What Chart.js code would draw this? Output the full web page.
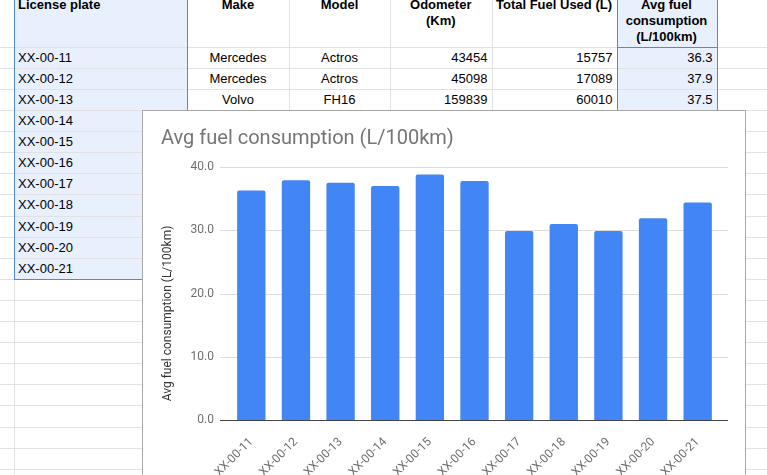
<!DOCTYPE html>
<html>
<head>
<meta charset="utf-8">
<script src="https://cdn.jsdelivr.net/npm/chart.js@4"></script>
<style>
  html, body { margin: 0; padding: 0; width: 767px; height: 475px; overflow: hidden; background: #fff; font-family: Arial, "Liberation Sans", sans-serif; }
  #sheet { position: absolute; left: 0; top: 0; width: 767px; height: 475px; }
  .ln { position: absolute; background: #e2e2e2; }
  .cell { position: absolute; font-size: 13px; color: #000; white-space: nowrap; box-sizing: border-box; padding: 0 4px; line-height: 21px; }
  .hd { font-weight: bold; line-height: 16px; text-align: center; }
  .sel { position: absolute; background: #e8f0fe; }
  .selb { position: absolute; border: 1px solid #4e88e8; box-sizing: border-box; }
  #card { position: absolute; left: 142px; top: 110px; width: 604px; height: 420px; background: #fff; border: 1px solid #a8a8a8; box-sizing: border-box; }
  #wrap { position: absolute; left: 0; top: 0; width: 602px; height: 370px; }
</style>
</head>
<body>
<div id="sheet"></div>
<div id="card"><div id="wrap"><canvas id="fuel-chart"></canvas></div></div>
<script>
// data from the sheet
const plates = ["XX-00-11", "XX-00-12", "XX-00-13", "XX-00-14", "XX-00-15", "XX-00-16",
  "XX-00-17", "XX-00-18", "XX-00-19", "XX-00-20", "XX-00-21"];
const makes = ["Mercedes", "Mercedes", "Volvo"];
const models = ["Actros", "Actros", "FH16"];
const odometerKm = [43454, 45098, 159839];
const fuelUsedL = [15757, 17089, 60010];
const avgConsumption = [36.3, 37.9, 37.5, 37.0, 38.8, 37.8, 29.9, 31.0, 29.9, 31.9, 34.4];
const headerLines = [["License plate"], ["Make"], ["Model"], ["Odometer", "(Km)"],
  ["Total Fuel Used (L)"], ["Avg fuel", "consumption", "(L/100km)"]];
const yTicks = [0, 10, 20, 30, 40];
const yAxisTitle = "Avg fuel consumption (L/100km)";

// spreadsheet background
const sheet = document.getElementById("sheet");
const colEdges = [0, 14, 187, 289, 390, 491.5, 616.5, 716.5, 800];
const headerBottom = 46.7;
const rowH = 21.1;

function box(cls, x, y, w, h, html) {
  const d = document.createElement("div");
  d.className = cls;
  d.style.left = x + "px";
  d.style.top = y + "px";
  d.style.width = w + "px";
  d.style.height = h + "px";
  if (html !== undefined) d.innerHTML = html;
  sheet.appendChild(d);
  return d;
}

// selected ranges (fill)
const selBottom = headerBottom + rowH * plates.length;
box("sel", colEdges[1], -5, colEdges[2] - colEdges[1], selBottom + 5);
box("sel", colEdges[6], -5, colEdges[7] - colEdges[6], selBottom + 5);

// grid lines
for (let i = 1; i < colEdges.length - 1; i++) box("ln", colEdges[i], 0, 1, 475);
box("ln", 0, headerBottom, 767, 1);
for (let r = 1; r <= 21; r++) box("ln", 0, headerBottom + rowH * r, 767, 1);

// header
headerLines.forEach((lines, c) => {
  const d = box("cell hd", colEdges[c + 1], -3, colEdges[c + 2] - colEdges[c + 1], 50, lines.join("<br>"));
  if (c === 0) d.style.textAlign = "left";
});

// rows
plates.forEach((p, r) => {
  const y = headerBottom + rowH * r;
  box("cell", colEdges[1], y, colEdges[2] - colEdges[1], rowH, p);
  if (r < makes.length) {
    const cols = [makes[r], models[r], odometerKm[r], fuelUsedL[r], avgConsumption[r].toFixed(1)];
    cols.forEach((v, k) => {
      const c = k + 2;
      const d = box("cell", colEdges[c], y, colEdges[c + 1] - colEdges[c], rowH, v);
      d.style.textAlign = k < 2 ? "center" : "right";
    });
  }
});

// selection borders
box("selb", colEdges[1], -5, colEdges[2] - colEdges[1] + 1, selBottom + 6);
box("selb", colEdges[6], -5, colEdges[7] - colEdges[6] + 1, selBottom + 6);
box("selb", colEdges[6], -5, colEdges[7] - colEdges[6] + 1, headerBottom + 6);

// gridlines that run a little past the bars, like the sheets chart
const sheetGrid = {
  id: "sheetGrid",
  beforeDatasetsDraw(chart) {
    const { ctx, chartArea, scales } = chart;
    ctx.save();
    ctx.strokeStyle = "#dcdcdc";
    ctx.lineWidth = 1;
    scales.y.ticks.forEach((t) => {
      if (t.value === 0) return;
      const py = Math.round(scales.y.getPixelForValue(t.value)) + 0.5;
      ctx.beginPath();
      ctx.moveTo(chartArea.left - 9, py);
      ctx.lineTo(chartArea.right + 8, py);
      ctx.stroke();
    });
    ctx.restore();
  },
  afterDatasetsDraw(chart) {
    const { ctx, chartArea, scales } = chart;
    const py = Math.round(scales.y.getPixelForValue(0)) + 0.5;
    ctx.save();
    ctx.strokeStyle = "#444";
    ctx.lineWidth = 1.2;
    ctx.beginPath();
    ctx.moveTo(chartArea.left - 9, py);
    ctx.lineTo(chartArea.right + 8, py);
    ctx.stroke();

    // y axis title, sits a bit below the plot centre as in sheets
    const cx = scales.y.left + 7;
    const cy = (chartArea.top + chartArea.bottom) / 2 + scales.x.height / 3;
    ctx.translate(cx, cy);
    ctx.rotate(-Math.PI / 2);
    ctx.fillStyle = "#333";
    ctx.font = "12px Roboto";
    ctx.textAlign = "center";
    ctx.textBaseline = "middle";
    ctx.fillText(yAxisTitle, 0, 0);
    ctx.restore();
  },
};

new Chart(document.getElementById("fuel-chart"), {
  type: "bar",
  data: {
    labels: plates,
    datasets: [
      {
        label: "Avg fuel consumption (L/100km)",
        data: avgConsumption,
        backgroundColor: "#4285f4",
        borderRadius: 2,
        barPercentage: 0.635,
        categoryPercentage: 1,
      },
    ],
  },
  options: {
    responsive: true,
    maintainAspectRatio: false,
    animation: false,
    layout: { padding: { left: 18, right: 25, top: 0, bottom: 1 } },
    plugins: {
      legend: { display: false },
      tooltip: { enabled: false },
      title: {
        display: true,
        text: "Avg fuel consumption (L/100km)",
        align: "start",
        color: "#757575",
        font: { family: "Roboto", size: 20, weight: "normal" },
        padding: { top: 16, bottom: 16 },
      },
    },
    scales: {
      x: {
        grid: { display: false },
        border: { display: false },
        ticks: {
          color: "#6f6f6f",
          font: { family: "Roboto", size: 12 },
          minRotation: 45,
          maxRotation: 45,
          autoSkip: false,
          padding: 7,
        },
        afterFit: (scale) => { scale.height = 60; },
      },
      y: {
        min: 0,
        max: 40,
        afterBuildTicks: (scale) => { scale.ticks = yTicks.map((v) => ({ value: v })); },
        grid: { display: false, drawTicks: false },
        border: { display: false },
        ticks: {
          color: "#6f6f6f",
          font: { family: "Roboto", size: 12 },
          padding: 15,
          callback: (v) => Number(v).toFixed(1),
        },
        afterFit: (scale) => { scale.width = 68; },
      },
    },
  },
  plugins: [sheetGrid],
});
</script>
</body>
</html>
